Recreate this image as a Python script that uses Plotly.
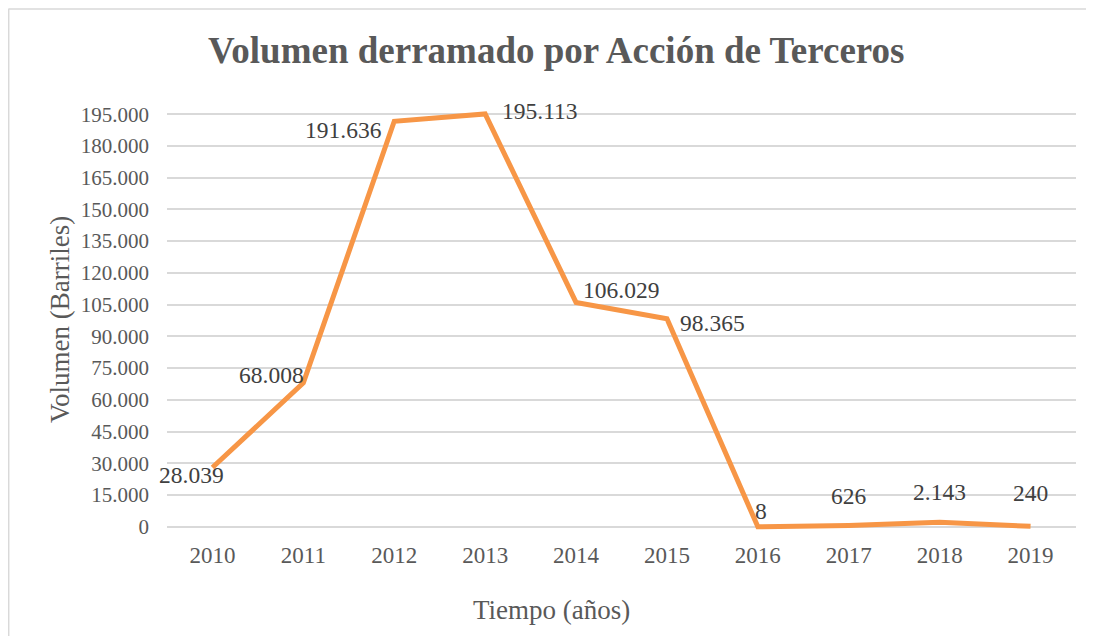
import plotly.graph_objects as go

years = ["2010", "2011", "2012", "2013", "2014", "2015", "2016", "2017", "2018", "2019"]
volumes = [28039, 68008, 191636, 195113, 106029, 98365, 8, 626, 2143, 240]
labels = ["28.039", "68.008", "191.636", "195.113", "106.029", "98.365", "8", "626", "2.143", "240"]
tick_vals = list(range(0, 195001, 15000))
tick_text = ["0"] + [f"{v//1000}.000" for v in tick_vals[1:]]

# label offsets in pixels (x, y-up)
label_shift = [(-21, -8), (-32, 8), (-51, -9), (55, 3), (45, 12), (46, -4), (3, 16), (0, 30), (0, 30), (0, 33)]

SERIF = "Liberation Serif, Times New Roman, serif"

W, H = 1086, 628          # page has an 8px body margin
OFF = 8
L, R = 167 - OFF, 18
T = 110.8 - OFF
B = H - (530.2 - OFF)
pw = W - L - R
ph = H - T - B


def px(xref_pix):
    return (xref_pix - OFF - L) / pw


def py(yref_pix):
    return (H - B - (yref_pix - OFF)) / ph


fig = go.Figure()
fig.add_trace(go.Scatter(
    x=years, y=volumes, mode="lines",
    line=dict(color="#F79646", width=5),
    hoverinfo="skip", showlegend=False,
))

annotations = []
for i, (v, lab, (dx, dy)) in enumerate(zip(volumes, labels, label_shift)):
    annotations.append(dict(
        x=i, y=v, xref="x", yref="y", text=lab, showarrow=False,
        xshift=dx, yshift=dy, xanchor="center", yanchor="middle",
        font=dict(family=SERIF, size=23.5, color="#404040"),
    ))

annotations.append(dict(
    x=px(60), y=py(320), xref="paper", yref="paper", text="Volumen (Barriles)",
    showarrow=False, textangle=-90, xanchor="center", yanchor="middle",
    font=dict(family=SERIF, size=27, color="#595959"),
))
annotations.append(dict(
    x=px(551), y=py(610), xref="paper", yref="paper", text="Tiempo (años)",
    showarrow=False, xanchor="center", yanchor="middle",
    font=dict(family=SERIF, size=27, color="#595959"),
))
annotations.append(dict(
    x=px(556), y=py(50), xref="paper", yref="paper",
    text="<b>Volumen derramado por Acción de Terceros</b>",
    showarrow=False, xanchor="center", yanchor="middle",
    font=dict(family=SERIF, size=37, color="#595959"),
))

shapes = [
    dict(type="line", xref="paper", yref="paper", x0=px(8.5), x1=px(1094), y0=py(8.7), y1=py(8.7),
         line=dict(color="#D9D9D9", width=1.5)),
    dict(type="line", xref="paper", yref="paper", x0=px(8.7), x1=px(8.7), y0=py(8.5), y1=py(640),
         line=dict(color="#D9D9D9", width=1.5)),
]

fig.update_layout(
    width=W, height=H,
    margin=dict(l=L, r=R, t=T, b=B),
    paper_bgcolor="white", plot_bgcolor="white",
    annotations=annotations, shapes=shapes,
    xaxis=dict(
        type="category", categoryorder="array", categoryarray=years,
        range=[-0.5, len(years) - 0.5],
        showgrid=False, zeroline=False, showline=False,
        tickfont=dict(family=SERIF, size=23, color="#595959"),
        ticks="", ticklabelstandoff=9,
    ),
    yaxis=dict(
        range=[-1500, 196500], tickvals=tick_vals, ticktext=tick_text,
        showgrid=True, gridcolor="#D9D9D9", gridwidth=1.5, zeroline=False, showline=False,
        tickfont=dict(family=SERIF, size=21, color="#595959"),
        ticks="", ticklabelstandoff=17,
    ),
)

fig.write_html("out.html")
